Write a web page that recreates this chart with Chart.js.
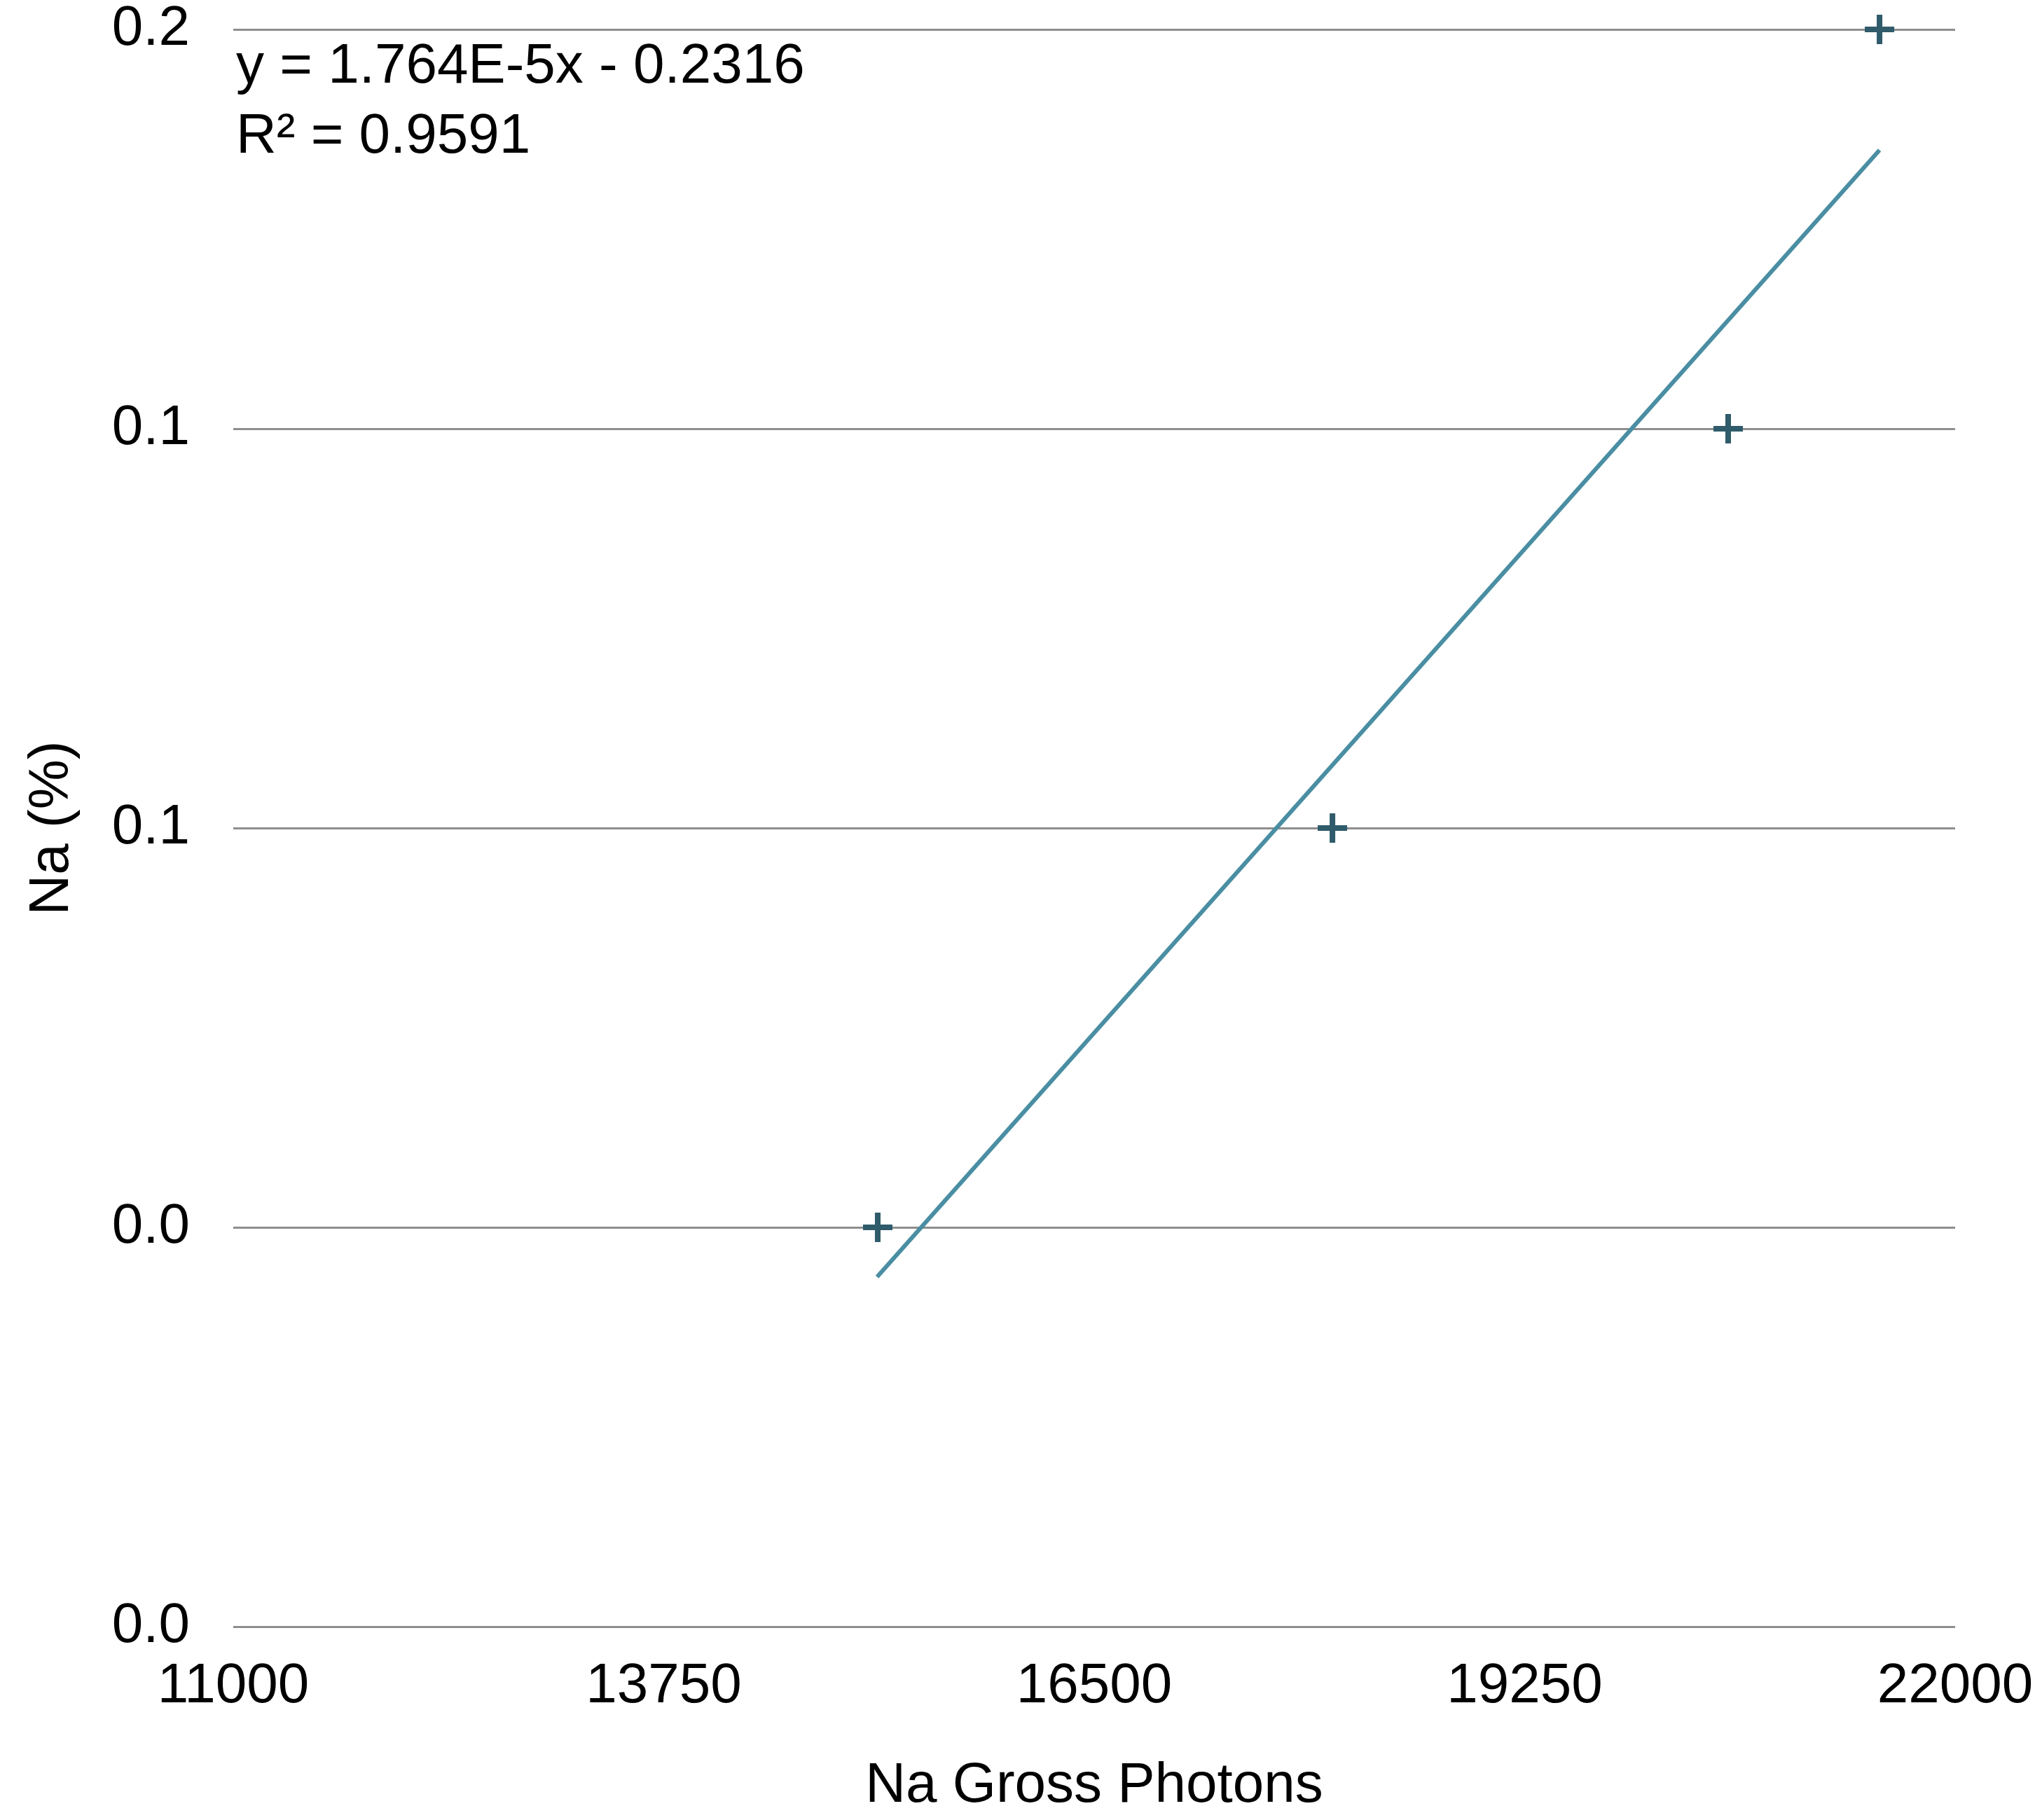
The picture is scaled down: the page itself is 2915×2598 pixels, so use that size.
<!DOCTYPE html>
<html>
<head>
<meta charset="utf-8">
<title>Na calibration</title>
<script src="https://cdn.jsdelivr.net/npm/chart.js@4.4.1/dist/chart.umd.min.js"></script>
<style>
  html, body { margin: 0; padding: 0; background: #fff; }
  #wrap { width: 2915px; height: 2598px; }
</style>
</head>
<body>
<div id="wrap"><canvas id="naChart" width="2915" height="2598"></canvas></div>
<script>
// values
const naPhotons = [15117, 18022, 20550, 21517];
const naPercent = [0.05, 0.10, 0.15, 0.20];

// trend line end points as drawn
const trendX = [15113, 21517];
const trendY = [0.0438, 0.1849];

const xTickLabels = ["11000", "13750", "16500", "19250", "22000"];
const yTickLabels = ["0.0", "0.0", "0.1", "0.1", "0.2"];

const eqLines = ["y = 1.764E-5x - 0.2316", "R\u00b2 = 0.9591"];

const FONT = "'Liberation Sans', Arial, sans-serif";

// equation text in the top left of the plot
const equationLabel = {
  id: "equationLabel",
  afterDraw(chart) {
    const ctx = chart.ctx;
    const area = chart.chartArea;
    ctx.save();
    ctx.fillStyle = "#000";
    ctx.font = "80px " + FONT;
    ctx.textAlign = "left";
    ctx.textBaseline = "alphabetic";
    ctx.fillText(eqLines[0], area.left + 4, area.top + 76);
    ctx.fillText(eqLines[1], area.left + 4, area.top + 176);
    ctx.restore();
  }
};

const ctx = document.getElementById("naChart");
const chart = new Chart(ctx, {
  data: {
    datasets: [
      {
        type: "scatter",
        label: "Na",
        data: naPhotons.map((x, i) => ({ x: x, y: naPercent[i] })),
        clip: false,
        pointStyle: "cross",
        pointRadius: 21,
        pointHoverRadius: 21,
        pointBorderWidth: 8,
        pointHoverBorderWidth: 8,
        pointBorderColor: "#2f5b6b",
        pointBackgroundColor: "#2f5b6b"
      },
      {
        type: "line",
        label: "Trend",
        data: trendX.map((x, i) => ({ x: x, y: trendY[i] })),
        borderColor: "#4a8ea3",
        borderWidth: 6,
        pointRadius: 0,
        fill: false
      }
    ]
  },
  options: {
    responsive: false,
    animation: false,
    devicePixelRatio: 1,
    layout: { padding: { top: 42, right: 124, bottom: 0, left: 0 } },
    plugins: {
      legend: { display: false },
      tooltip: { enabled: false }
    },
    scales: {
      x: {
        type: "linear",
        min: 11000,
        max: 22000,
        grid: { display: false },
        border: { display: false },
        ticks: {
          stepSize: 2750,
          padding: 38,
          color: "#000",
          font: { family: FONT, size: 80, lineHeight: 1 },
          maxRotation: 0,
          autoSkip: false,
          callback: (v, i) => xTickLabels[i]
        },
        title: {
          display: true,
          text: "Na Gross Photons",
          color: "#000",
          font: { family: FONT, size: 80, lineHeight: 1.2 },
          padding: { top: 0, bottom: 0 }
        },
        afterFit(scale) {
          scale.height = 276;
          scale.paddingLeft = 0;
          scale.paddingRight = 0;
        }
      },
      y: {
        type: "linear",
        min: 0,
        max: 0.2,
        grid: {
          color: "#8e8e8e",
          lineWidth: 3,
          drawTicks: false
        },
        border: { display: false },
        ticks: {
          stepSize: 0.05,
          padding: 62,
          color: "#000",
          font: { family: FONT, size: 80, lineHeight: 1 },
          callback: (v, i) => yTickLabels[i]
        },
        title: {
          display: true,
          text: "Na (%)",
          color: "#000",
          font: { family: FONT, size: 80, lineHeight: 1.2 },
          padding: { top: 27, bottom: 0 }
        },
        afterFit(scale) {
          scale.width = 333;
          scale.paddingTop = 0;
          scale.paddingBottom = 0;
        }
      }
    }
  },
  plugins: [equationLabel]
});
</script>
</body>
</html>
